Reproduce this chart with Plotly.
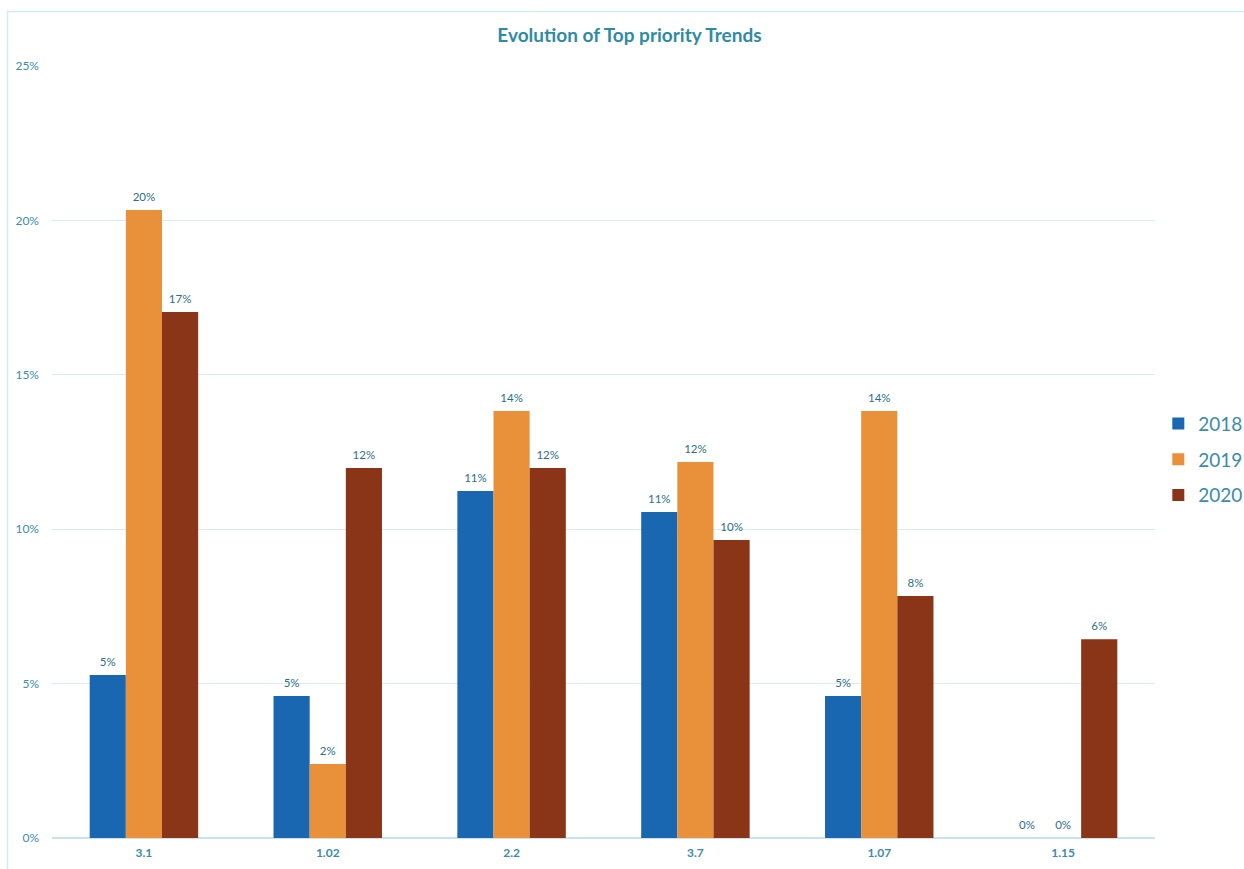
import plotly.graph_objects as go

categories = ["3.1", "1.02", "2.2", "3.7", "1.07", "1.15"]
years = ["2018", "2019", "2020"]
v2018 = [5.28, 4.60, 11.24, 10.56, 4.60, 0.0]
v2019 = [20.34, 2.40, 13.83, 12.18, 13.83, 0.0]
v2020 = [17.03, 11.98, 11.98, 9.65, 7.84, 6.44]
colors = ["#1a67b1", "#e8913a", "#8b3518"]

fig = go.Figure()
for name, vals, col in zip(years, [v2018, v2019, v2020], colors):
    fig.add_trace(go.Bar(
        x=categories, y=vals, name=name, legendgroup=name,
        marker=dict(color=col, line=dict(width=0)),
        text=[f"<span style='font-size:11.5px'>{round(v)}%</span><br> " for v in vals],
        textposition="outside",
        textfont=dict(family="Lato, Open Sans, sans-serif", size=4, color="#2b6f86"),
        cliponaxis=False,
    ))

fig.update_layout(
    width=1244, height=869,
    barmode="group", bargap=0.41, bargroupgap=0,
    plot_bgcolor="white", paper_bgcolor="white",
    margin=dict(l=52, r=89, t=66, b=31, autoexpand=False),
    title=dict(text="<b>Evolution of Top priority Trends</b>", x=0.506, xanchor="center",
               y=1 - 35 / 869, yanchor="middle",
               font=dict(family="Lato, Open Sans, sans-serif", size=19, color="#2e8ba6")),
    font=dict(family="Lato, Open Sans, sans-serif", color="#3a8ca8"),
    legend=dict(x=1.003, xanchor="left", y=0.49, yanchor="middle",
                font=dict(size=19, color="#3a8ca8"), itemwidth=30,
                tracegroupgap=8),
    showlegend=True,
    shapes=[dict(type="rect", xref="paper", yref="paper",
                 x0=-(52 - 7.5) / 1103, x1=1.2, y0=-0.2, y1=1 + (66 - 11.5) / 772,
                 line=dict(color="#d3eaf2", width=1.5), layer="below")],
)
fig.update_yaxes(range=[0, 25], dtick=5, ticksuffix="%", showgrid=True,
                 gridcolor="#d6ecf2", gridwidth=1, zeroline=True, zerolinecolor="#c7e4ee",
                 zerolinewidth=1.5, tickfont=dict(size=12, color="#3a8ca8"),
                 ticks="", ticklen=0, showline=False, ticklabelstandoff=12)
fig.update_xaxes(tickfont=dict(size=12, color="#3a8ca8"), showline=False,
                 tickprefix="<b>", ticksuffix="</b>", ticklabelstandoff=6)

fig.write_html("out.html")
